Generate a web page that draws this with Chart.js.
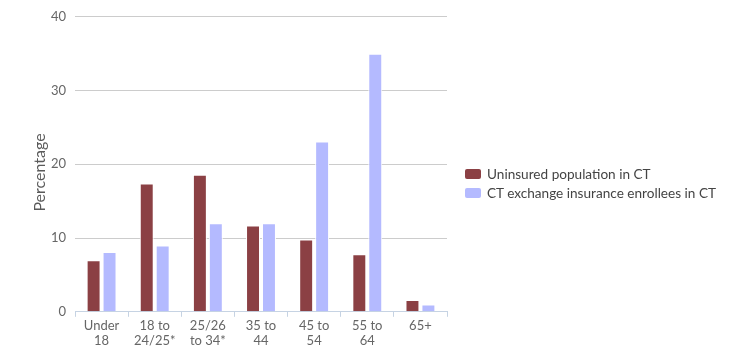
<!DOCTYPE html>
<html>
<head>
<meta charset="utf-8">
<script src="https://cdn.jsdelivr.net/npm/chart.js@4"></script>
<style>
  html, body { margin: 0; padding: 0; background: #fff; }
  #wrap { position: relative; width: 744px; height: 361px; }
  #legend { position: absolute; left: 465px; top: 164px; font-family: Lato, sans-serif; font-size: 13.6px; color: #444; }
  .item { display: flex; align-items: center; height: 19px; white-space: nowrap; }
  .swatch { width: 16px; height: 10px; border-radius: 2px; margin-right: 6px; }
</style>
</head>
<body>
<div id="wrap"><canvas id="chart"></canvas><div id="legend"></div></div>
<script>
// --- Data ---
const ageGroups = [
  ['Under', '18'],
  ['18 to', '24/25*'],
  ['25/26', 'to 34*'],
  ['35 to', '44'],
  ['45 to', '54'],
  ['55 to', '64'],
  ['65+']
];
const uninsured = [7.0, 17.4, 18.6, 11.7, 9.8, 7.8, 1.6];
const enrollees = [8.1, 9.0, 12.0, 12.0, 23.1, 35.0, 1.0];
const yTicks = [0, 10, 20, 30, 40];

const ctx = document.getElementById('chart').getContext('2d');
const chart = new Chart(ctx, {
  type: 'bar',
  data: {
    labels: ageGroups,
    datasets: [{
      label: 'Uninsured population in CT',
      data: uninsured,
      backgroundColor: '#8b4044',
      borderColor: '#ffffff',
      borderWidth: 1
    }, {
      label: 'CT exchange insurance enrollees in CT',
      data: enrollees,
      backgroundColor: '#b4baff',
      borderColor: '#ffffff',
      borderWidth: 1
    }]
  },
  options: {
    responsive: true,
    maintainAspectRatio: false,
    animation: false,
    categoryPercentage: 0.6,
    barPercentage: 0.875,
    layout: { padding: { left: 26, right: 297, top: 7, bottom: 11 } },
    scales: {
      x: {
        grid: { display: true, drawOnChartArea: false, drawTicks: true, tickLength: 5, color: '#c6d3e3' },
        border: { display: true, color: '#c6d3e3', width: 1 },
        ticks: { color: '#666', font: { family: 'Lato', size: 13 }, maxRotation: 0, padding: 1 }
      },
      y: {
        min: 0,
        max: 40,
        afterBuildTicks: axis => { axis.ticks = yTicks.map(v => ({ value: v })); },
        afterFit: axis => { axis.width = 49; },
        grid: { color: '#cccccc', drawTicks: false },
        border: { display: false },
        ticks: { color: '#666', font: { family: 'Lato', size: 13 }, padding: 9 },
        // trailing spaces nudge the title a little below the axis centre, as in the original
        title: { display: true, text: 'Percentage    ', color: '#5a5a5a', font: { family: 'Lato', size: 16 }, padding: 4 }
      }
    },
    plugins: {
      legend: { display: false },
      tooltip: { enabled: false }
    }
  }
});

// --- HTML legend built from the datasets ---
const legendEl = document.getElementById('legend');
chart.data.datasets.forEach(ds => {
  const row = document.createElement('div');
  row.className = 'item';
  row.innerHTML = `<span class="swatch" style="background:${ds.backgroundColor}"></span>${ds.label}`;
  legendEl.appendChild(row);
});
</script>
</body>
</html>
